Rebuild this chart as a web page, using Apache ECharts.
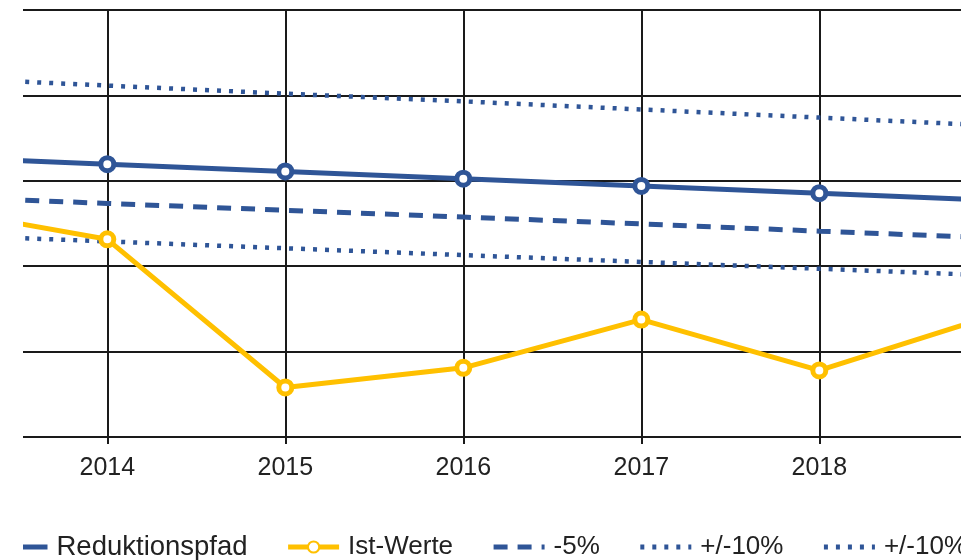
<!DOCTYPE html>
<html>
<head>
<meta charset="utf-8">
<title>Reduktionspfad</title>
<script src="https://cdn.jsdelivr.net/npm/echarts@6.0.0/dist/echarts.min.js"></script>
<style>
  html, body { margin: 0; padding: 0; background: #fff; }
  /* the reference is a cut-out: everything left of x=23 and right of x=961 is blank */
  #main { position: absolute; left: 23px; top: 0; width: 938px; height: 560px; }
</style>
</head>
<body>
<div id="main"></div>
<script>
  var years = [2013, 2014, 2015, 2016, 2017, 2018, 2019];
  var tickYears = [2014, 2015, 2016, 2017, 2018];
  var reduktionspfad = [92.8, 91.95, 91.1, 90.25, 89.4, 88.55, 87.7];
  var istWerte = [86.85, 83.15, 65.8, 68.1, 73.75, 67.8, 74.4];
  var minus5 = [88.15, 87.35, 86.55, 85.75, 84.95, 84.1, 83.3];
  var plus10 = [102.1, 101.15, 100.2, 99.3, 98.35, 97.4, 96.45];
  var minus10 = [83.7, 82.9, 82.1, 81.3, 80.5, 79.7, 78.9];

  var blue = '#2F5597';
  var gold = '#FFC000';
  var gridColor = '#1a1a1a';
  var font = "'Liberation Sans', Arial, sans-serif";

  function pairs(vals) {
    return years.map(function (y, i) { return [y, vals[i]]; });
  }

  // legend entries: only Ist-Werte keeps its marker in the icon
  var noMarker = { opacity: 0 };

  var chart = echarts.init(document.getElementById('main'));
  chart.setOption({
    animation: false,
    textStyle: { fontFamily: font },
    grid: { left: 0, right: 0, top: 10, bottom: 123 },
    legend: {
      left: -29,
      top: 533,
      width: 1400,
      padding: 0,
      itemGap: 38,
      itemWidth: 51,
      itemHeight: 14,
      lineStyle: { width: 5 },
      data: [
        { name: 'Reduktionspfad', itemStyle: noMarker, textStyle: { fontSize: 27.5 } },
        { name: 'Ist-Werte' },
        { name: '-5%', itemStyle: noMarker },
        { name: '+/-10%', itemStyle: noMarker },
        { name: '+/-10% ', itemStyle: noMarker }
      ],
      textStyle: { fontSize: 26, color: '#222', fontFamily: font, padding: [0, 0, 0, 4] }
    },
    xAxis: {
      type: 'value',
      min: 2013.5264,
      max: 2018.796,
      axisLine: { show: true, lineStyle: { color: gridColor, width: 2 } },
      axisTick: { show: true, length: 7, customValues: tickYears, lineStyle: { color: gridColor, width: 2 } },
      axisLabel: {
        customValues: tickYears,
        fontSize: 25,
        color: '#222',
        margin: 19,
        fontFamily: font,
        formatter: function (v) { return String(v); }
      },
      splitLine: { show: true, lineStyle: { color: gridColor, width: 2 } }
    },
    yAxis: {
      type: 'value',
      min: 60,
      max: 110,
      interval: 10,
      axisLine: { show: false },
      axisTick: { show: false },
      axisLabel: { show: false },
      splitLine: { show: true, lineStyle: { color: gridColor, width: 2 } }
    },
    series: [
      {
        name: '+/-10%',
        type: 'line',
        data: pairs(plus10),
        symbol: 'none',
        lineStyle: { color: blue, width: 4.5, type: [4, 8], cap: 'butt' },
        itemStyle: { color: blue }
      },
      {
        name: '+/-10% ',
        type: 'line',
        data: pairs(minus10),
        symbol: 'none',
        lineStyle: { color: blue, width: 4.5, type: [4, 8], cap: 'butt' },
        itemStyle: { color: blue }
      },
      {
        name: '-5%',
        type: 'line',
        data: pairs(minus5),
        symbol: 'none',
        lineStyle: { color: blue, width: 5, type: [14, 10], cap: 'butt' },
        itemStyle: { color: blue }
      },
      {
        name: 'Reduktionspfad',
        type: 'line',
        data: pairs(reduktionspfad),
        symbol: 'circle',
        symbolSize: 13,
        lineStyle: { color: blue, width: 5 },
        itemStyle: { color: '#fff', borderColor: blue, borderWidth: 5 }
      },
      {
        name: 'Ist-Werte',
        type: 'line',
        data: pairs(istWerte),
        symbol: 'circle',
        symbolSize: 13,
        lineStyle: { color: gold, width: 5 },
        itemStyle: { color: '#fff', borderColor: gold, borderWidth: 5 }
      }
    ]
  });
</script>
</body>
</html>
